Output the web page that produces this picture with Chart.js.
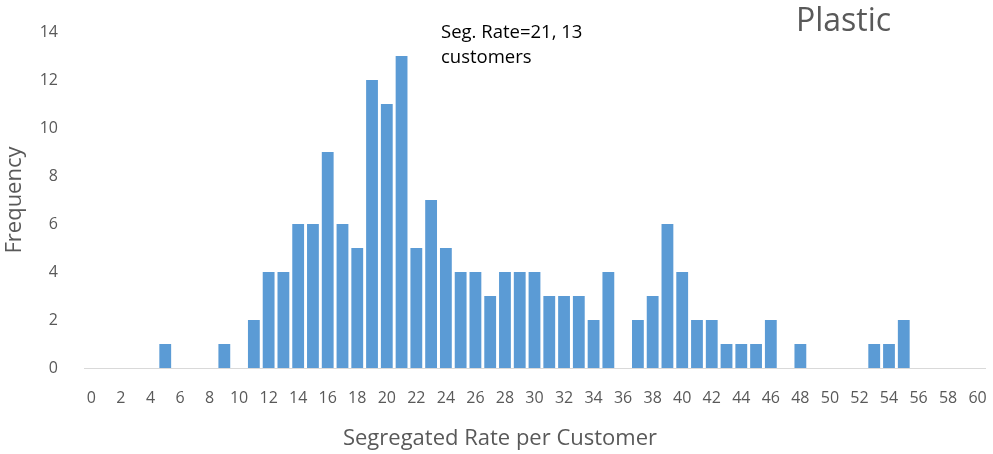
<!DOCTYPE html>
<html>
<head>
<meta charset="utf-8">
<script src="https://cdn.jsdelivr.net/npm/chart.js@4/dist/chart.umd.min.js"></script>
<style>
  html, body { margin: 0; padding: 0; background: #fff; }
  #wrap { width: 993px; height: 454px; position: relative; }
</style>
</head>
<body>
<div id="wrap"><canvas id="chart"></canvas></div>
<script>
// Segregated rate per customer (0..60) and how many customers had it
const rates = Array.from({ length: 61 }, (_, i) => String(i));
const frequency = [
  0, 0, 0, 0, 0, 1, 0, 0, 0, 1,
  0, 2, 4, 4, 6, 6, 9, 6, 5, 12,
  11, 13, 5, 7, 5, 4, 4, 3, 4, 4,
  4, 3, 3, 3, 2, 4, 0, 2, 3, 6,
  4, 2, 2, 1, 1, 1, 2, 0, 1, 0,
  0, 0, 0, 1, 1, 2, 0, 0, 0, 0,
  0
];
const yTicks = [0, 2, 4, 6, 8, 10, 12, 14];
const noteLines = ['Seg. Rate=21, 13', 'customers'];
const chartTitle = 'Plastic';
const xTitle = 'Segregated Rate per Customer';
const yTitle = 'Frequency';

const tickColor = '#595959';
const fontFamily = '"Open Sans", Calibri, sans-serif';

// free text: annotation, "Plastic" title and the two axis titles
const textPlugin = {
  id: 'freeText',
  afterDraw(chart) {
    const ctx = chart.ctx;
    ctx.save();
    ctx.textBaseline = 'middle';
    ctx.textAlign = 'left';
    ctx.fillStyle = '#000';
    ctx.font = '18.5px ' + fontFamily;
    ctx.fillText(noteLines[0], 441, 33);
    ctx.fillText(noteLines[1], 441, 58);

    ctx.fillStyle = tickColor;
    ctx.font = '32px ' + fontFamily;
    ctx.fillText(chartTitle, 796, 22);

    ctx.textAlign = 'center';
    ctx.font = '22px ' + fontFamily;
    ctx.fillText(xTitle, 500, 439);

    ctx.translate(15, 200);
    ctx.rotate(-Math.PI / 2);
    ctx.fillText(yTitle, 0, 0);
    ctx.restore();
  }
};

new Chart(document.getElementById('chart'), {
  type: 'bar',
  data: {
    labels: rates,
    datasets: [{
      data: frequency,
      backgroundColor: '#5b9bd5',
      borderWidth: 0,
      categoryPercentage: 1,
      barPercentage: 0.8
    }]
  },
  options: {
    responsive: true,
    maintainAspectRatio: false,
    animation: false,
    layout: { padding: { top: 32, right: 8, left: 0, bottom: 0 } },
    plugins: {
      legend: { display: false },
      tooltip: { enabled: false }
    },
    scales: {
      x: {
        grid: { display: false },
        border: { display: true, color: '#d9d9d9', width: 1 },
        ticks: {
          color: tickColor,
          font: { family: fontFamily, size: 16 },
          autoSkip: false,
          maxRotation: 0,
          padding: 13,
          callback: function (value, index) {
            return index % 2 === 0 ? rates[index] : '';
          }
        },
        afterFit: function (scale) {
          scale.height = 86;
          scale.paddingLeft = 0;
          scale.paddingRight = 0;
        }
      },
      y: {
        min: 0,
        max: 14,
        grid: { display: false },
        border: { display: false },
        afterBuildTicks: function (scale) {
          scale.ticks = yTicks.map(v => ({ value: v }));
        },
        ticks: {
          color: tickColor,
          font: { family: fontFamily, size: 16 },
          padding: 18
        },
        afterFit: function (scale) { scale.width = 84; }
      }
    }
  },
  plugins: [textPlugin]
});
</script>
</body>
</html>
